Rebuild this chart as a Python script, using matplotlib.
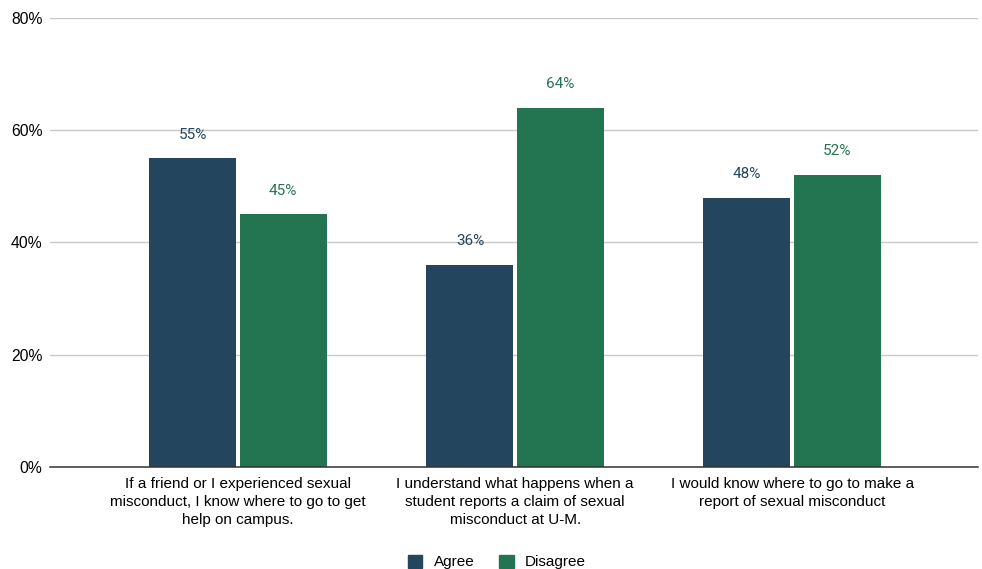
import matplotlib
matplotlib.use("Agg")
import matplotlib.pyplot as plt
import numpy as np
from matplotlib.patches import Rectangle

categories = [
    "If a friend or I experienced sexual\nmisconduct, I know where to go to get\nhelp on campus.",
    "I understand what happens when a\nstudent reports a claim of sexual\nmisconduct at U-M.",
    "I would know where to go to make a\nreport of sexual misconduct",
]
agree = [55, 36, 48]
disagree = [45, 64, 52]
series_names = ["Agree", "Disagree"]
yticks = [0, 20, 40, 60, 80]

c_agree = "#23455d"
c_disagree = "#237552"

fig = plt.figure(figsize=(9.82, 5.69), dpi=100)
ax = fig.add_axes([50 / 982, 1 - 467 / 569, 928 / 982, 449 / 569])

x = np.arange(len(categories))
w = 0.314
off = 0.163
b1 = ax.bar(x - off, agree, w, color=c_agree, zorder=3)
b2 = ax.bar(x + off, disagree, w, color=c_disagree, zorder=3)

for bars, vals, col in ((b1, agree, c_agree), (b2, disagree, c_disagree)):
    for rect, v in zip(bars, vals):
        ax.annotate(f"{v}%", (rect.get_x() + rect.get_width() / 2, v),
                    xytext=(0, 12), textcoords="offset points",
                    ha="center", va="bottom", color=col,
                    fontsize=11, family="Roboto")

ax.set_xlim(-0.679, 2.671)
ax.set_ylim(0, 80)
ax.set_yticks(yticks)
ax.set_yticklabels([f"{t}%" for t in yticks], family="Liberation Sans", fontsize=11.3)
ax.tick_params(axis="y", length=0, pad=5.5)
ax.yaxis.grid(True, color="#c8c8c8", linewidth=1, zorder=0)
ax.set_axisbelow(True)
for s in ["top", "right", "left"]:
    ax.spines[s].set_visible(False)
ax.spines["bottom"].set_color("#333333")
ax.spines["bottom"].set_linewidth(1.1)
ax.spines["bottom"].set_zorder(4)

ax.set_xticks(x)
ax.set_xticklabels(categories, family="Liberation Sans", fontsize=11,
                   linespacing=1.38)
ax.tick_params(axis="x", length=0, pad=7)

handles = [Rectangle((0, 0), 1, 1, color=c_agree), Rectangle((0, 0), 1, 1, color=c_disagree)]
fig.legend(handles, series_names, loc="lower center", bbox_to_anchor=(0.506, -0.025),
           ncol=2, frameon=False, prop={"family": "Liberation Sans", "size": 11},
           handlelength=0.95, handleheight=0.95, handletextpad=0.75, columnspacing=1.6)

fig.savefig("out.png", dpi=100)
